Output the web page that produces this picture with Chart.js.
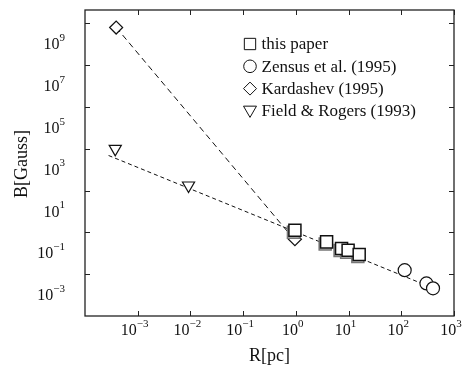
<!DOCTYPE html>
<html>
<head>
<meta charset="utf-8">
<script src="https://cdn.jsdelivr.net/npm/chart.js@4.4.1/dist/chart.umd.min.js"></script>
<style>
  html, body { margin: 0; padding: 0; background: #fff; }
  #wrap { width: 464px; height: 369px; }
</style>
</head>
<body>
<div id="wrap"><canvas id="myChart"></canvas></div>
<script>
// values (R in pc, B in Gauss)
const paperR = [0.96, 3.83, 7.36, 9.8, 15.9];
const paperB = [1.26, 0.35, 0.169, 0.14, 0.087];
const paperShadowR = [0.9, 3.6, 6.9, 9.2, 15.0];
const paperShadowB = [1.0, 0.28, 0.135, 0.112, 0.07];
const zensusR = [116, 300, 400];
const zensusB = [0.0155, 0.0036, 0.0021];
const kardashevR = [3.9e-4, 0.96];
const kardashevB = [6.2e9, 0.47];
const fieldR = [3.75e-4, 9.2e-3];
const fieldB = [9.8e3, 174];
const steepFitR = [3.9e-4, 0.77];
const steepFitB = [6.3e9, 0.8];
const flatFitR = [2.8e-4, 400];
const flatFitB = [4720, 0.00216];

// axis decades
const xTickExps = [-3, -2, -1, 0, 1, 2, 3];
const yLabelExps = [-3, -1, 1, 3, 5, 7, 9];
const yMarkExps = [-2, 0, 2, 4, 6, 8, 10];

const legendLabels = ['this paper', 'Zensus et al. (1995)', 'Kardashev (1995)', 'Field & Rogers (1993)'];

const FONT = "'Liberation Serif', 'Times New Roman', serif";

function pts(xs, ys) {
    return xs.map((x, i) => ({ x: x, y: ys[i] }));
}

function drawPow(ctx, exp, x, y, align) {
    const base = '10';
    const sup = exp < 0 ? '\u2212' + Math.abs(exp) : String(exp);
    ctx.font = '16px ' + FONT;
    const wb = ctx.measureText(base).width;
    ctx.font = '11px ' + FONT;
    const ws = ctx.measureText(sup).width;
    const total = wb + ws;
    let left = x;
    if (align === 'right') left = x - total;
    if (align === 'center') left = x - total / 2;
    ctx.textAlign = 'left';
    ctx.textBaseline = 'middle';
    ctx.font = '16px ' + FONT;
    ctx.fillText(base, left, y);
    ctx.font = '11px ' + FONT;
    ctx.fillText(sup, left + wb, y - 7);
}

// frame, inward ticks, labels, legend
const framePlugin = {
    id: 'frame',
    afterDatasetsDraw(chart) {
        const ctx = chart.ctx;
        const a = chart.chartArea;
        const xs = chart.scales.x;
        const ys = chart.scales.y;
        ctx.save();
        ctx.strokeStyle = '#222';
        ctx.lineWidth = 1.3;
        ctx.setLineDash([]);
        ctx.strokeRect(a.left, a.top, a.right - a.left, a.bottom - a.top);

        ctx.beginPath();
        xTickExps.forEach(e => {
            const px = Math.round(xs.getPixelForValue(Math.pow(10, e))) + 0.5;
            ctx.moveTo(px, a.bottom); ctx.lineTo(px, a.bottom - 5);
            ctx.moveTo(px, a.top); ctx.lineTo(px, a.top + 5);
        });
        yMarkExps.forEach(e => {
            const py = Math.round(ys.getPixelForValue(Math.pow(10, e))) + 0.5;
            ctx.moveTo(a.left, py); ctx.lineTo(a.left + 5, py);
            ctx.moveTo(a.right, py); ctx.lineTo(a.right - 5, py);
        });
        ctx.lineWidth = 1;
        ctx.stroke();

        ctx.fillStyle = '#111';
        xTickExps.forEach(e => {
            drawPow(ctx, e, xs.getPixelForValue(Math.pow(10, e)) - 3, a.bottom + 15, 'center');
        });
        yLabelExps.forEach(e => {
            drawPow(ctx, e, a.left - 20, ys.getPixelForValue(Math.pow(10, e)) + 1, 'right');
        });

        // axis titles
        ctx.font = '18px ' + FONT;
        ctx.textAlign = 'center';
        ctx.textBaseline = 'middle';
        ctx.fillText('R[pc]', (a.left + a.right) / 2, 356);
        ctx.save();
        ctx.translate(22, 164);
        ctx.rotate(-Math.PI / 2);
        ctx.fillText('B[Gauss]', 0, 0);
        ctx.restore();

        // legend
        const styles = [
            { pointStyle: 'rect', radius: 8, rotation: 0, borderWidth: 1.3 },
            { pointStyle: 'circle', radius: 6.3, rotation: 0, borderWidth: 1.2 },
            { pointStyle: 'rectRot', radius: 6.5, rotation: 0, borderWidth: 1.2 },
            { pointStyle: 'triangle', radius: 7.5, rotation: 180, borderWidth: 1.2 }
        ];
        legendLabels.forEach((label, i) => {
            const y = 44 + i * 22.3;
            ctx.strokeStyle = '#111';
            ctx.fillStyle = '#fff';
            Chart.helpers.drawPoint(ctx, styles[i], 250, i === 3 ? y - 1 : y);
            ctx.fillStyle = '#111';
            ctx.font = '17px ' + FONT;
            ctx.textAlign = 'left';
            ctx.textBaseline = 'middle';
            ctx.fillText(label, 261.5, y + 1);
        });
        ctx.restore();
    }
};

const marker = {
    showLine: false,
    borderColor: '#111',
    pointBackgroundColor: '#fff',
    pointBorderColor: '#111',
    pointBorderWidth: 1.2
};

const ctx = document.getElementById('myChart').getContext('2d');
const myChart = new Chart(ctx, {
    type: 'scatter',
    data: {
        datasets: [
            Object.assign({}, marker, { label: 'this paper', data: pts(paperR, paperB), pointStyle: 'rect', pointRadius: 8.5, pointBorderWidth: 1.5 }),
            Object.assign({}, marker, { label: 'this paper (grey)', data: pts(paperShadowR, paperShadowB), pointStyle: 'rect', pointRadius: 8.5,
                pointBorderColor: '#777', pointBackgroundColor: '#ccc', pointBorderWidth: 1.5 }),
            Object.assign({}, marker, { label: 'Zensus et al. (1995)', data: pts(zensusR, zensusB), pointStyle: 'circle', pointRadius: 6.5 }),
            Object.assign({}, marker, { label: 'Kardashev (1995)', data: pts(kardashevR, kardashevB), pointStyle: 'rectRot', pointRadius: 6.5 }),
            Object.assign({}, marker, { label: 'Field & Rogers (1993)', data: pts(fieldR, fieldB), pointStyle: 'triangle', pointRadius: 7, pointRotation: 180 }),
            { label: 'fit R^-3', data: pts(steepFitR, steepFitB), showLine: true, pointRadius: 0,
              borderColor: '#111', borderWidth: 1, borderDash: [6, 4] },
            { label: 'fit R^-1', data: pts(flatFitR, flatFitB), showLine: true, pointRadius: 0,
              borderColor: '#111', borderWidth: 1, borderDash: [4, 3] }
        ]
    },
    options: {
        responsive: true,
        maintainAspectRatio: false,
        animation: false,
        layout: { padding: { left: 85, right: 9.5, top: 9, bottom: 53 } },
        plugins: {
            legend: { display: false },
            tooltip: { enabled: false }
        },
        scales: {
            x: { type: 'logarithmic', min: 1e-4, max: 1e3, display: false },
            y: { type: 'logarithmic', min: 1e-4, max: 4.27e10, display: false }
        }
    },
    plugins: [framePlugin]
});
</script>
</body>
</html>
